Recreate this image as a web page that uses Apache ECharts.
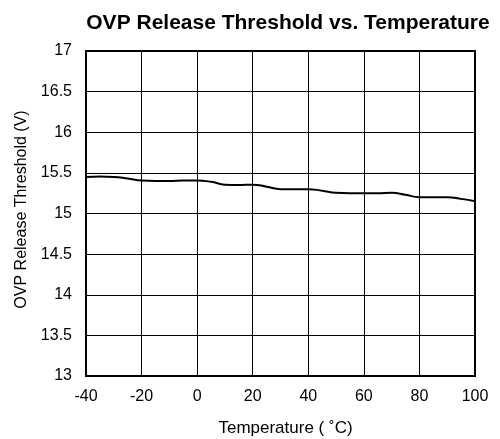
<!DOCTYPE html>
<html>
<head>
<meta charset="utf-8">
<script src="https://cdn.jsdelivr.net/npm/echarts@6/dist/echarts.min.js"></script>
<style>
  html, body { margin: 0; padding: 0; background: #fff; }
  #chart { width: 500px; height: 439px; }
</style>
</head>
<body>
<div id="chart"></div>
<script>
// temperature (°C) and release threshold (V)
var temps = [-40, -35, -30, -25, -20, -15, -10, -5, 0, 5, 10, 15, 20, 25, 30, 35, 40, 45, 50, 55, 60, 65, 70, 75, 80, 85, 90, 95, 100];
var threshold = [15.45, 15.455, 15.45, 15.43, 15.405, 15.4, 15.4, 15.405, 15.405, 15.39, 15.355, 15.35, 15.355, 15.33, 15.3, 15.3, 15.3, 15.28, 15.255, 15.25, 15.25, 15.25, 15.255, 15.23, 15.2, 15.2, 15.2, 15.18, 15.15];

var font = 'Liberation Sans, Arial, sans-serif';

//拼成 [x, y] 点
var points = [];
for (var i = 0; i < temps.length; i++) {
  points.push([temps[i], threshold[i]]);
}

var chart = echarts.init(document.getElementById('chart'));
chart.setOption({
  animation: false,
  title: {
    text: 'OVP Release Threshold vs. Temperature',
    left: 283, top: 8, textAlign: 'center',
    textStyle: { fontFamily: font, fontSize: 21, fontWeight: 'bold', color: '#000' }
  },
  grid: {
    left: 86, right: 25, top: 51, bottom: 63,
    outerBoundsMode: 'none',
    show: true, borderColor: '#000', borderWidth: 2, backgroundColor: '#fff'
  },
  xAxis: {
    type: 'value', min: -40, max: 100, interval: 20,
    name: 'Temperature ( ˚C)', nameLocation: 'middle', nameGap: 44,
    nameTextStyle: { fontFamily: font, fontSize: 17, color: '#000', padding: [0, 0, 0, 10] },
    axisLine: { show: false }, axisTick: { show: false },
    axisLabel: { fontFamily: font, fontSize: 16, color: '#000', margin: 13 },
    splitLine: { show: true, lineStyle: { color: '#000', width: 1 } }
  },
  yAxis: {
    type: 'value', min: 13, max: 17, interval: 0.5,
    name: 'OVP Release Threshold (V)', nameLocation: 'middle', nameGap: 50, nameRotate: 90,
    nameTextStyle: { fontFamily: font, fontSize: 16, color: '#000', padding: [0, 0, 0, 8] },
    axisLine: { show: false }, axisTick: { show: false },
    axisLabel: { fontFamily: font, fontSize: 16, color: '#000', margin: 14 },
    splitLine: { show: true, lineStyle: { color: '#000', width: 1 } }
  },
  series: [{
    type: 'line',
    data: points,
    smooth: true,
    showSymbol: false,
    lineStyle: { color: '#000', width: 2 }
  }]
});
</script>
</body>
</html>
